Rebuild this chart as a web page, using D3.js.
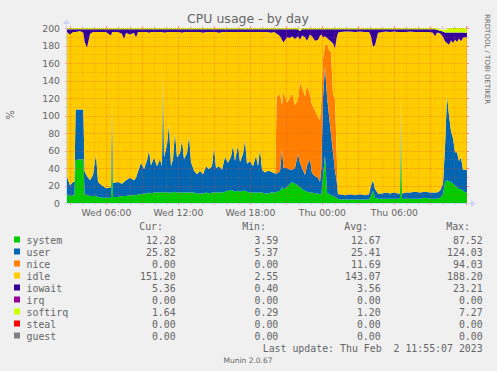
<!DOCTYPE html>
<html><head><meta charset="utf-8">
<script src="https://cdn.jsdelivr.net/npm/d3@7"></script>
<style>
body{margin:0;background:#f0f0f0}
svg{display:block}
text{font-family:"DejaVu Sans",sans-serif;fill:#666}
.mono{font-family:"DejaVu Sans Mono",monospace;white-space:pre}
</style>
</head><body>
<svg id="c" width="497" height="371"></svg>
<script>
// minutes after graph start (Wed Feb 1 2023 02:43)
const minutes = [0,15,30,37,43,65,82,88,100,115,130,145,155,175,195,220,225,230,255,275,285,295,315,335,345,355,370,385,400,410,420,435,450,465,475,480,485,500,510,520,530,540,550,565,575,585,600,610,620,635,650,665,680,695,710,725,735,745,760,775,790,805,820,830,840,855,865,880,890,900,915,930,945,955,965,975,990,1005,1020,1035,1042,1048,1055,1065,1075,1082,1100,1115,1125,1140,1155,1165,1175,1190,1200,1215,1225,1240,1255,1265,1272,1280,1290,1300,1310,1320,1330,1340,1348,1355,1365,1390,1415,1440,1465,1490,1510,1520,1530,1540,1555,1575,1595,1615,1635,1655,1665,1670,1675,1695,1715,1740,1765,1790,1815,1830,1840,1850,1865,1880,1890,1900,1910,1920,1930,1940,1950,1960,1970,1980,1990,2000];
const system = [10,8,9,9,49,50,50,10,9,8,8,8,7,6,6,6,55,7,7,8,8,8,9,9,9,10,10,11,11,12,11,12,12,12,12,13,12,12,12,12,12,13,12,12,12,12,12,12,12,12,11,11,11,12,11,12,12,12,12,12,13,14,15,14,13,14,13,14,14,13,12,12,12,12,12,12,11,11,12,12,12,13,13,14,18,16,18,22,24,22,20,18,16,14,13,12,12,11,11,10,10,30,55,12,10,9,8,7,6,5,4,4,4,4,4,4,4,8,14,6,5,5,5,5,5,5,5,85,5,5,5,5,5,6,5,5,5,5,6,10,24,26,25,24,22,20,18,16,16,14,12.3,12.3];
const user = [20,12,15,15,58,57,57,26,22,18,24,48,17,14,11,12,64,16,17,14,16,18,20,17,20,26,36,28,38,48,32,40,30,38,30,140,40,55,78,30,38,68,40,45,60,38,45,65,35,25,22,26,22,30,28,30,52,28,30,26,40,32,38,52,35,52,34,42,58,32,36,30,42,30,50,26,24,26,24,22,22,20,22,22,44,24,22,16,14,18,36,28,24,18,30,38,22,20,18,14,30,90,101,110,90,70,50,30,20,5,6,5,6,5,6,5,6,12,12,10,6,6,7,6,7,6,6,35,6,7,7,8,7,7,7,7,7,7,8,12,40,97,75,58,52,38,40,32,36,24,25.8,25.8];
const nice = [0,0,0,0,0,0,0,0,0,0,0,0,0,0,0,0,0,0,0,0,0,0,0,0,0,0,0,0,0,0,0,0,0,0,0,0,0,0,0,0,0,0,0,0,0,0,0,0,0,0,0,0,0,0,0,0,0,0,0,0,0,0,0,0,0,0,0,0,0,0,0,0,0,0,0,0,0,0,0,0,0,89,87,89,50,87,75,82,88,72,62,93,92,90,92,74,78,75,69,71,78,45,24,60,75,93,67,81,34,0,0,0,0,0,0,0,0,0,0,0,0,0,0,0,0,0,0,0,0,0,0,0,0,0,0,0,0,0,0,0,0,0,0,0,0,0,0,0,0,0,0,0];
const idle = [165.5,172.5,171.5,171.5,88.5,89.5,87.5,148.5,146.5,167.5,163.5,139.5,171.5,175.5,178.5,173.5,76.5,172.5,171.5,171.5,163.5,168.5,163.5,168.5,160.5,159.5,149.5,156.5,146.5,134.5,152.5,143.5,153.5,145.5,153.5,42.5,142.5,128.5,105.5,153.5,145.5,114.5,143.5,138.5,122.5,145.5,138.5,118.5,148.5,158.5,162.5,158.5,161.5,153.5,156.5,153.5,131.5,155.5,152.5,157.5,142.5,149.5,142.5,129.5,147.5,129.5,148.5,139.5,123.5,150.5,147.5,153.5,141.5,153.5,133.5,157.5,160.5,158.5,158.5,161.5,160.5,71.5,70.5,65.5,74.5,56.5,74.5,68.5,64.5,75.5,72.5,47.5,59.5,67.5,50.5,68.5,78.5,79.5,88.5,96.5,74.5,24.5,10.5,6.5,11.5,12.5,57.5,58.5,128.5,184.5,185.5,187,186,186.5,186,186.5,185.5,170.5,152.5,164.5,183.5,184.5,184,184.5,184,184.5,184.5,75.5,184.5,183.5,184,182.5,183.5,182.5,183.5,182.5,178.5,183,180,168,121,60,81,104,109,129,126,140,133,151,151.2,151.2];
const iowait = [3,6,3,3,3,2,4,14,21,5,3,3,3,3,3,7,3,3,3,5,11,4,6,4,9,3,3,3,3,4,3,3,3,3,3,3,4,3,3,3,3,3,3,3,4,3,3,3,3,3,3,3,4,3,3,3,3,3,4,3,3,3,3,3,3,3,3,3,3,3,3,3,3,3,3,3,3,3,4,3,4,5,6,8,12,15,9,10,8,11,8,10,7,9,13,6,8,13,12,7,6,9,8,10,12,14,16,22,10,4,3,2.5,2.5,3,2.5,3,3,8,20,18,4,3,2.5,3,2.5,3,3,3,3,3,2.5,3,3,3,3,4,8,3,3,6,10,12,14,9,12,8,11,7,10,6,5.4,5.4];
const softirq = [1.5,1.5,1.5,1.5,1.5,1.5,1.5,1.5,1.5,1.5,1.5,1.5,1.5,1.5,1.5,1.5,1.5,1.5,1.5,1.5,1.5,1.5,1.5,1.5,1.5,1.5,1.5,1.5,1.5,1.5,1.5,1.5,1.5,1.5,1.5,1.5,1.5,1.5,1.5,1.5,1.5,1.5,1.5,1.5,1.5,1.5,1.5,1.5,1.5,1.5,1.5,1.5,1.5,1.5,1.5,1.5,1.5,1.5,1.5,1.5,1.5,1.5,1.5,1.5,1.5,1.5,1.5,1.5,1.5,1.5,1.5,1.5,1.5,1.5,1.5,1.5,1.5,1.5,1.5,1.5,1.5,1.5,1.5,1.5,1.5,1.5,1.5,1.5,1.5,1.5,1.5,1.5,1.5,1.5,1.5,1.5,1.5,1.5,1.5,1.5,1.5,1.5,1.5,1.5,1.5,1.5,1.5,1.5,1.5,1.5,1.5,1.5,1.5,1.5,1.5,1.5,1.5,1.5,1.5,1.5,1.5,1.5,1.5,1.5,1.5,1.5,1.5,1.5,1.5,1.5,1.5,1.5,1.5,1.5,1.5,1.5,1.5,1.5,1.5,2,3,4,5,5,5,5,5,5,5,5,5,5,1.6,1.6];

const seriesNames = ["system","user","nice","idle","iowait","irq","softirq","steal","guest"];
const seriesColors = ["#00CC00","#0066B3","#FF8000","#FFCC00","#330099","#990099","#CCFF00","#FF0000","#808080"];
const curVals = ["12.28","25.82","0.00","151.20","5.36","0.00","1.64","0.00","0.00"];
const minVals = ["3.59","5.37","0.00","2.55","0.40","0.00","0.29","0.00","0.00"];
const avgVals = ["12.67","25.41","11.69","143.07","3.56","0.00","1.20","0.00","0.00"];
const maxVals = ["87.52","124.03","94.03","188.20","23.21","0.00","7.27","0.00","0.00"];
const yTicks = [0,20,40,60,80,100,120,140,160,180,200];

const svg = d3.select("#c");
svg.append("rect").attr("width",497).attr("height",371).attr("fill","#F0F0F0");

const start = new Date(2023,1,1,2,43,0);
const end = new Date(2023,1,2,12,3,0);
const L=67,R=467,T=28,B=203;
const x = d3.scaleTime().domain([start,end]).range([L,R]);
const y = d3.scaleLinear().domain([0,200]).range([B,T]);

const rows = minutes.map((m,i)=>({
  t:new Date(start.getTime()+m*60000),
  system:system[i],user:user[i],nice:nice[i],idle:idle[i],iowait:iowait[i],irq:0,softirq:softirq[i],steal:0,guest:0
}));
const stack = d3.stack().keys(seriesNames)(rows);

svg.append("rect").attr("x",L).attr("y",T).attr("width",R-L).attr("height",B-T).attr("fill","#FFFFFF");

const area = d3.area().x(d=>x(d.data.t)).y0(d=>y(d[0])).y1(d=>y(d[1])).curve(d3.curveLinear);
svg.append("g").selectAll("path").data(stack).join("path")
  .attr("d",area).attr("fill",(d,i)=>seriesColors[i]);

// grid
const majC="rgba(240,70,50,0.40)", minC="rgba(220,100,60,0.28)";
const g = svg.append("g");
const hours = d3.timeHour.every(1).range(start,end);
hours.forEach(h=>{
  const major = h.getHours()%3===0;
  const xx = Math.round(x(h))+0.5;
  g.append("line").attr("x1",xx).attr("x2",xx).attr("y1",T).attr("y2",B)
    .attr("stroke",major?majC:minC).attr("stroke-dasharray","1,1");
  g.append("line").attr("x1",xx).attr("x2",xx).attr("y1",B).attr("y2",B+2)
    .attr("stroke",major?"#FF8080":"#C8C8C8");
  g.append("line").attr("x1",xx).attr("x2",xx).attr("y1",T-2).attr("y2",T)
    .attr("stroke",major?"#FF8080":"#C8C8C8");
});
d3.range(0,201,10).forEach(v=>{
  const major = v%20===0;
  const yy = Math.round(y(v))+0.5;
  if(v>0) g.append("line").attr("x1",L).attr("x2",R).attr("y1",yy).attr("y2",yy)
    .attr("stroke",major?majC:minC).attr("stroke-dasharray","1,1");
  g.append("line").attr("x1",L-2).attr("x2",L).attr("y1",yy).attr("y2",yy)
    .attr("stroke",major?"#FF8080":"#C8C8C8");
  g.append("line").attr("x1",R).attr("x2",R+2).attr("y1",yy).attr("y2",yy)
    .attr("stroke",major?"#FF8080":"#C8C8C8");
});

// axes
svg.append("line").attr("x1",L-2).attr("x2",R+4).attr("y1",B+0.5).attr("y2",B+0.5).attr("stroke","#CFD6F8");
svg.append("line").attr("x1",L-0.5).attr("x2",L-0.5).attr("y1",B+2).attr("y2",T-4).attr("stroke","#CFD6F8");
svg.append("path").attr("d",`M${R+4},${B-3}L${R+9},${B+0.5}L${R+4},${B+4}Z`).attr("fill","#CFD6F8");
svg.append("path").attr("d",`M${L-4},${T-4}L${L-0.5},${T-9}L${L+3},${T-4}Z`).attr("fill","#CFD6F8");

// y labels
svg.append("g").selectAll("text").data(yTicks).join("text")
  .attr("x",60).attr("y",d=>y(d)+3.5).attr("text-anchor","end").attr("font-size","9.3px").text(d=>d);
// x labels
const labelHours = hours.filter(h=>h.getHours()%6===0 && x(h) < R-30);
const fmt = d3.timeFormat("%a %H:%M");
svg.append("g").selectAll("text").data(labelHours).join("text")
  .attr("x",d=>x(d)).attr("y",216).attr("text-anchor","middle").attr("font-size","9.3px").text(d=>fmt(d));

// title
svg.append("text").attr("x",248).attr("y",23).attr("text-anchor","middle").attr("font-size","12.5px").attr("fill","#555").text("CPU usage - by day");
svg.append("text").attr("transform","translate(14,115) rotate(-90)").attr("text-anchor","middle").attr("font-size","10px").text("%");
svg.append("text").attr("transform","translate(485,14) rotate(90)").attr("font-size","7px").attr("fill","#c8c8c8").text("RRDTOOL / TOBI OETIKER");

// legend
const fs="9.9px";
const hdrY=230;
[["Cur:",163],["Min:",266],["Avg:",368],["Max:",470]].forEach(([t,xx])=>{
  svg.append("text").attr("class","mono").attr("x",xx).attr("y",hdrY).attr("text-anchor","end").attr("font-size",fs).text(t);
});
const colsX=[175.7,278.3,380.7,482.7];
seriesNames.forEach((n,i)=>{
  const yy = 243.5 + i*12;
  svg.append("rect").attr("x",14).attr("y",yy-7).attr("width",6).attr("height",6).attr("fill",seriesColors[i]);
  svg.append("text").attr("class","mono").attr("x",26.5).attr("y",yy).attr("font-size",fs).text(n);
  [curVals,minVals,avgVals,maxVals].forEach((arr,k)=>{
    svg.append("text").attr("class","mono").attr("x",colsX[k]).attr("y",yy).attr("text-anchor","end").attr("font-size",fs).text(arr[i]);
  });
});
svg.append("text").attr("class","mono").attr("x",482.7).attr("y",351.5).attr("text-anchor","end").attr("font-size",fs).text("Last update: Thu Feb  2 11:55:07 2023");
svg.append("text").attr("x",248).attr("y",363).attr("text-anchor","middle").attr("font-size","7.5px").attr("fill","#c0c0c0").text("Munin 2.0.67");
</script>
</body></html>
